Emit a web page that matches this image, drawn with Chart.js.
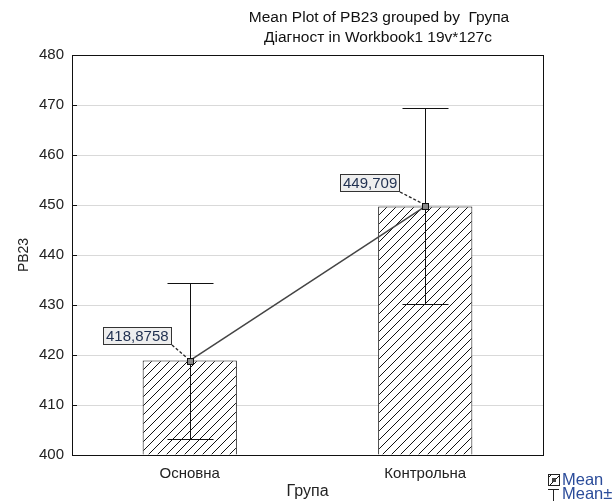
<!DOCTYPE html>
<html>
<head>
<meta charset="utf-8">
<script src="https://cdn.jsdelivr.net/npm/chart.js@4.4.1/dist/chart.umd.min.js"></script>
<style>
  html, body { margin:0; padding:0; background:#fff; }
  #wrap { width:615px; height:501px; position:relative; }
</style>
</head>
<body>
<div id="wrap"><canvas id="c"></canvas></div>
<script>
// ---------- data ----------
const groups = ['Основна', 'Контрольна'];
const means = [418.8758, 449.709];
const upperErr = [434.5, 469.35];
const lowerErr = [403.2, 430.1];
const meanText = ['418,8758', '449,709'];
const yMin = 400, yMax = 480, yStep = 10;

const titleLines = ['Mean Plot of PB23 grouped by  Група', 'Діагност in Workbook1 19v*127c'];
const legendItems = ['Mean', 'Mean±'];

// label box offsets from the point (style only)
const labelShift = [[18, 16], [25, 14]];

const FONT = '"Liberation Sans", Arial, sans-serif';

// hatch pattern "/"
function hatch(){
  const s = 9;
  const pc = document.createElement('canvas');
  pc.width = s; pc.height = s;
  const p = pc.getContext('2d');
  p.fillStyle = '#fff'; p.fillRect(0,0,s,s);
  p.strokeStyle = '#111'; p.lineWidth = 1;
  p.beginPath();
  p.moveTo(0, s); p.lineTo(s, 0);
  p.moveTo(-1, 1); p.lineTo(1, -1);
  p.moveTo(s-1, s+1); p.lineTo(s+1, s-1);
  p.stroke();
  return p.createPattern(pc, 'repeat');
}
const ctx = document.getElementById('c').getContext('2d');
const pattern = hatch();

const overlay = {
  id: 'overlay',
  afterDatasetsDraw(chart){
    const c = chart.ctx, a = chart.chartArea;
    const xs = chart.scales.x, ys = chart.scales.y;
    c.save();
    // error bars
    c.strokeStyle = '#111'; c.lineWidth = 1;
    groups.forEach((g, i) => {
      const x = Math.round(xs.getPixelForValue(i)) + 0.5;
      const yh = Math.round(ys.getPixelForValue(upperErr[i])) + 0.5;
      const yl = Math.round(ys.getPixelForValue(lowerErr[i])) + 0.5;
      c.beginPath();
      c.moveTo(x, yh); c.lineTo(x, yl);
      c.moveTo(x - 23, yh); c.lineTo(x + 23, yh);
      c.moveTo(x - 23, yl); c.lineTo(x + 23, yl);
      c.stroke();
    });
    // mean markers
    groups.forEach((g, i) => {
      const x = Math.round(xs.getPixelForValue(i));
      const y = Math.round(ys.getPixelForValue(means[i]));
      c.fillStyle = '#888';
      c.fillRect(x - 3, y - 3, 7, 7);
      c.strokeStyle = '#111';
      c.strokeRect(x - 2.5, y - 2.5, 6, 6);
    });
    // value labels with dashed leaders
    c.font = '15px ' + FONT;
    c.textBaseline = 'middle';
    groups.forEach((g, i) => {
      const px = xs.getPixelForValue(i);
      const py = ys.getPixelForValue(means[i]);
      const w = Math.round(c.measureText(meanText[i]).width + 6);
      const h = 18;
      const rx = Math.round(px - labelShift[i][0]), by = Math.round(py - labelShift[i][1]);
      c.setLineDash([3, 2]); c.lineWidth = 1.3; c.strokeStyle = '#222';
      c.beginPath(); c.moveTo(rx, by); c.lineTo(px - 3, py - 3); c.stroke();
      c.setLineDash([]); c.lineWidth = 1;
      c.fillStyle = '#eeeeee';
      c.fillRect(rx - w, by - h, w, h);
      c.strokeStyle = '#333';
      c.strokeRect(rx - w + 0.5, by - h + 0.5, w - 1, h - 1);
      c.fillStyle = '#1f2f4f';
      c.textAlign = 'left';
      c.fillText(meanText[i], rx - w + 3, by - h / 2 + 1);
    });
    // frame
    c.strokeStyle = '#111'; c.lineWidth = 1;
    c.strokeRect(Math.round(a.left) + 0.5, Math.round(a.top) + 0.5, Math.round(a.right - a.left), Math.round(a.bottom - a.top));
    // inward ticks
    ys.ticks.forEach(t => {
      const y = Math.round(ys.getPixelForValue(t.value)) + 0.5;
      c.beginPath(); c.moveTo(a.left, y); c.lineTo(a.left + 5, y); c.stroke();
    });
    c.restore();
  },
  afterDraw(chart){
    const c = chart.ctx;
    c.save();
    c.fillStyle = '#111';
    c.font = '15.5px ' + FONT;
    c.textAlign = 'center';
    c.textBaseline = 'middle';
    c.fillText(titleLines[0], 379, 18);
    c.fillText(titleLines[1], 378, 38);
    // legend
    const lx = 548;
    c.fillStyle = pattern; c.fillRect(lx, 474, 11, 11);
    c.strokeStyle = '#222'; c.lineWidth = 1;
    c.strokeRect(lx + 0.5, 474.5, 11, 11);
    c.fillStyle = '#444'; c.fillRect(lx + 4, 478, 4, 4);
    c.beginPath();
    c.moveTo(lx, 489.5); c.lineTo(lx + 11, 489.5);
    c.moveTo(lx + 5.5, 489.5); c.lineTo(lx + 5.5, 501);
    c.stroke();
    c.fillStyle = '#2b4c9a';
    c.font = '16.5px ' + FONT;
    c.textAlign = 'left';
    c.fillText(legendItems[0], 562, 480);
    c.fillText(legendItems[1], 562, 494);
    c.restore();
  }
};

new Chart(ctx, {
  data: {
    labels: groups,
    datasets: [
      {
        type: 'line',
        data: means,
        borderColor: '#444',
        borderWidth: 1.5,
        pointRadius: 0,
        tension: 0,
        order: 0
      },
      {
        type: 'bar',
        data: means,
        base: yMin,
        backgroundColor: pattern,
        borderColor: '#111',
        borderWidth: 1,
        categoryPercentage: 1,
        barPercentage: 0.4,
        order: 1
      }
    ]
  },
  options: {
    responsive: true,
    maintainAspectRatio: false,
    animation: false,
    events: [],
    layout: { padding: { top: 55, right: 72, left: 0, bottom: 0 } },
    plugins: { legend: { display: false }, tooltip: { enabled: false } },
    scales: {
      x: {
        offset: true,
        grid: { display: false },
        border: { color: '#111' },
        ticks: { color: '#222', font: { family: FONT, size: 15 }, padding: 2 },
        title: { display: true, text: 'Група', color: '#222', font: { family: FONT, size: 16 }, padding: { top: 2, bottom: 0 } },
        afterFit(s){ s.height = 46; }
      },
      y: {
        min: yMin, max: yMax,
        ticks: { stepSize: yStep, color: '#222', font: { family: FONT, size: 15 }, padding: 8 },
        grid: { color: '#d9d9d9', drawTicks: false },
        border: { color: '#111' },
        title: { display: true, text: 'PB23', color: '#222', font: { family: FONT, size: 14 }, padding: { top: 16, bottom: 0 } },
        afterFit(s){ s.width = 72; }
      }
    }
  },
  plugins: [overlay]
});
</script>
</body>
</html>
